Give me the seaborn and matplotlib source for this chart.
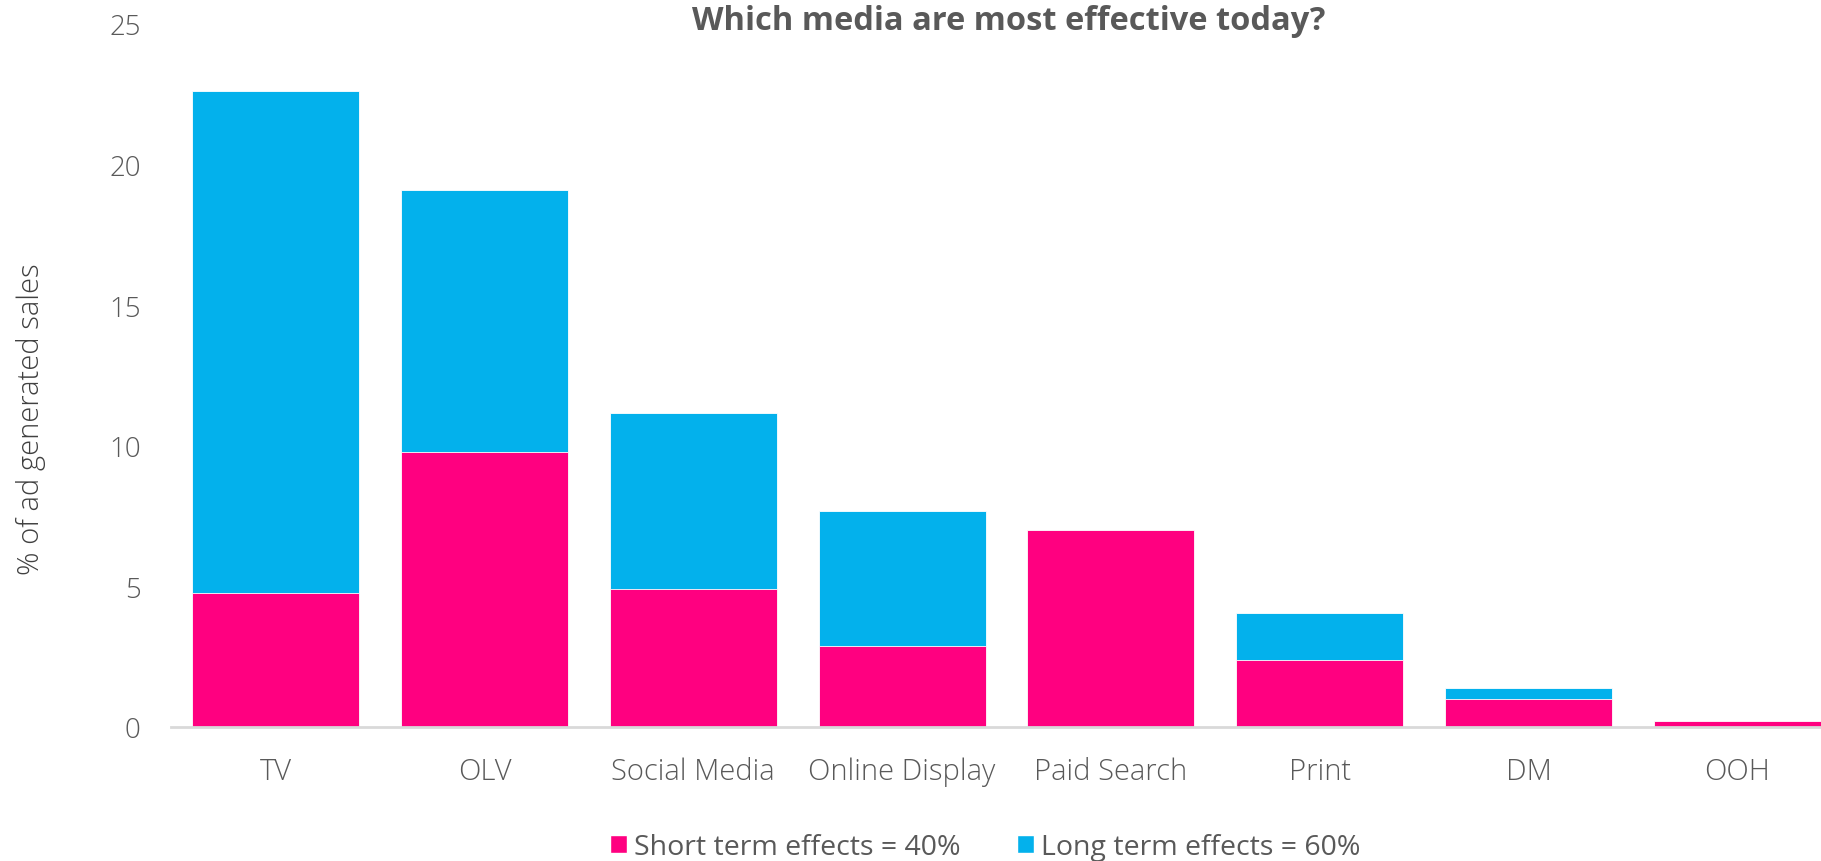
import matplotlib
matplotlib.use("Agg")
import matplotlib.pyplot as plt
import seaborn as sns
import pandas as pd
from matplotlib.patches import Patch

media = ["TV", "OLV", "Social Media", "Online Display", "Paid Search", "Print", "DM", "OOH"]
short_term = [4.77, 9.79, 4.89, 2.88, 6.99, 2.38, 0.99, 0.20]
long_term = [17.83, 9.29, 6.29, 4.81, 0.0, 1.69, 0.41, 0.0]
yticks = [0, 5, 10, 15, 20, 25]

PINK = "#FF0080"
BLUE = "#03B1EC"
GREY = "#595959"

sns.set_theme(style="white")
plt.rcParams["font.family"] = ["Open Sans", "DejaVu Sans"]

df = pd.DataFrame({"media": media, "short": short_term, "long": long_term})
df["total"] = df["short"] + df["long"]

fig = plt.figure(figsize=(18.21, 8.62), dpi=100)
ax = fig.add_axes([0.094, 0.1555, 0.906, 0.8155])

sns.barplot(data=df, x="media", y="total", color=BLUE, saturation=1, width=0.8,
            edgecolor="white", linewidth=0.6, ax=ax)
sns.barplot(data=df, x="media", y="short", color=PINK, saturation=1, width=0.8,
            edgecolor="white", linewidth=0.6, ax=ax)

ax.set_xlim(-0.5, 7.4)
ax.set_ylim(0, 25)
ax.set_yticks(yticks)
ax.set_yticklabels([str(t) for t in yticks], fontsize=20, color=GREY, fontweight="light")
ax.set_xticks(range(len(media)))
ax.set_xticklabels(media, fontsize=21, color=GREY, fontweight="light")
ax.tick_params(axis="y", length=0, pad=22)
ax.tick_params(axis="x", length=0, pad=21)
ax.set_xlabel("")
ax.set_ylabel("")
for side in ["top", "right", "left"]:
    ax.spines[side].set_visible(False)
ax.spines["bottom"].set_color("#D9D9D9")
ax.spines["bottom"].set_linewidth(2)

fig.text(0.554, 0.975, "Which media are most effective today?", ha="center", va="center",
         fontsize=23.5, fontweight="bold", color=GREY)
fig.text(0.017, 0.514, "% of ad generated sales", rotation=90, ha="center", va="center",
         fontsize=21, color="#404040", fontweight="light")

handles = [Patch(facecolor=PINK, label="Short term effects = 40%"),
           Patch(facecolor=BLUE, label="Long term effects = 60%")]
fig.legend(handles=handles, loc="center", bbox_to_anchor=(0.541, 0.016), ncol=2, frameon=False,
           fontsize=20.5, labelcolor=GREY, handlelength=0.6, handleheight=0.6,
           handletextpad=0.25, columnspacing=2.0, borderpad=0)

fig.savefig("out.png", dpi=100)
